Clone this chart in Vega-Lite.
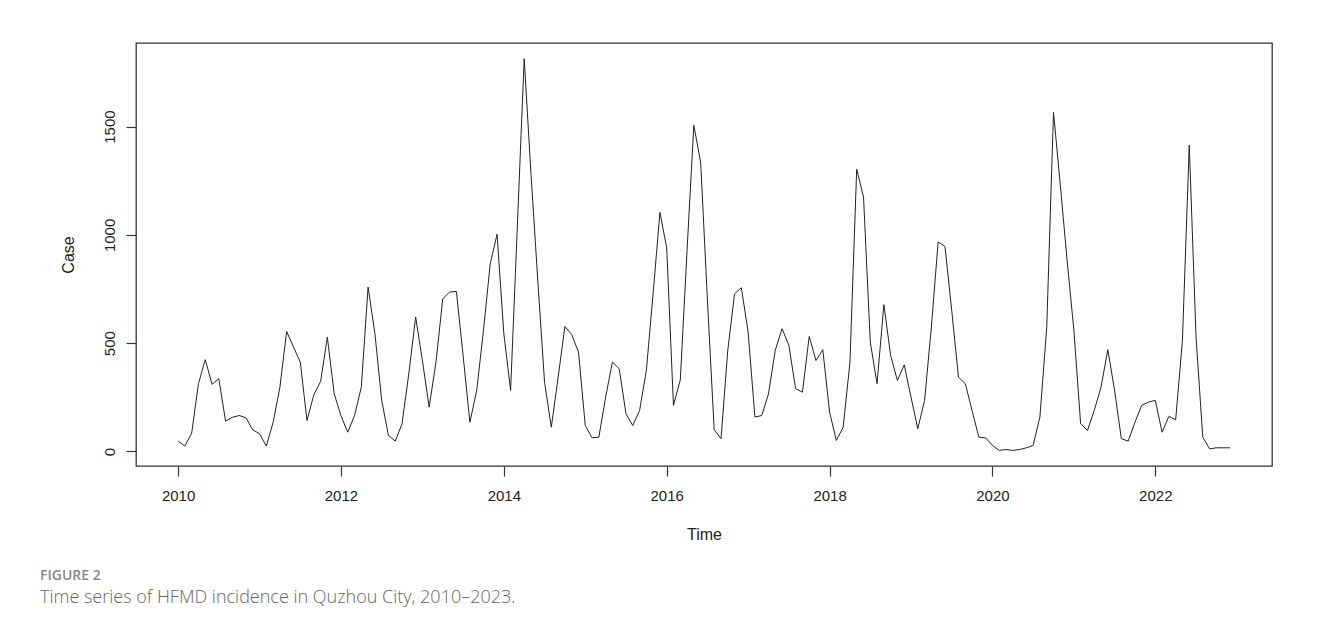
{
  "$schema": "https://vega.github.io/schema/vega-lite/v6.json",
  "width": 1136,
  "height": 423,
  "autosize": {"type": "none"},
  "padding": {"left": 136, "top": 43, "right": 56, "bottom": 165},
  "background": "white",
  "config": {
    "view": {"stroke": "#333333", "strokeWidth": 1.3},
    "font": "Liberation Sans"
  },
  "title": {
    "text": "FIGURE 2",
    "subtitle": "Time series of HFMD incidence in Quzhou City, 2010–2023.",
    "orient": "bottom",
    "anchor": "start",
    "frame": "group",
    "offset": 27,
    "dx": -96,
    "font": "Open Sans",
    "fontSize": 14,
    "fontWeight": 600,
    "color": "#888888",
    "subtitleFont": "Open Sans",
    "subtitleFontSize": 18,
    "subtitleFontWeight": 300,
    "subtitleColor": "#666666",
    "subtitlePadding": 6
  },
  "data": {
    "values": [
      {"t": 2010.000, "cases": 48}, {"t": 2010.083, "cases": 25}, {"t": 2010.167, "cases": 85}, {"t": 2010.250, "cases": 313},
      {"t": 2010.333, "cases": 424}, {"t": 2010.417, "cases": 310}, {"t": 2010.500, "cases": 336}, {"t": 2010.583, "cases": 140},
      {"t": 2010.667, "cases": 158}, {"t": 2010.750, "cases": 166}, {"t": 2010.833, "cases": 156}, {"t": 2010.917, "cases": 100},
      {"t": 2011.000, "cases": 82}, {"t": 2011.083, "cases": 25}, {"t": 2011.167, "cases": 135}, {"t": 2011.250, "cases": 297},
      {"t": 2011.333, "cases": 554}, {"t": 2011.417, "cases": 482}, {"t": 2011.500, "cases": 413}, {"t": 2011.583, "cases": 143},
      {"t": 2011.667, "cases": 262}, {"t": 2011.750, "cases": 323}, {"t": 2011.833, "cases": 528}, {"t": 2011.917, "cases": 266},
      {"t": 2012.000, "cases": 165}, {"t": 2012.083, "cases": 89}, {"t": 2012.167, "cases": 166}, {"t": 2012.250, "cases": 297},
      {"t": 2012.333, "cases": 759}, {"t": 2012.417, "cases": 544}, {"t": 2012.500, "cases": 236}, {"t": 2012.583, "cases": 74},
      {"t": 2012.667, "cases": 48}, {"t": 2012.750, "cases": 128}, {"t": 2012.833, "cases": 359}, {"t": 2012.917, "cases": 621},
      {"t": 2013.000, "cases": 420}, {"t": 2013.083, "cases": 205}, {"t": 2013.167, "cases": 413}, {"t": 2013.250, "cases": 705},
      {"t": 2013.333, "cases": 736}, {"t": 2013.417, "cases": 739}, {"t": 2013.500, "cases": 443}, {"t": 2013.583, "cases": 135},
      {"t": 2013.667, "cases": 282}, {"t": 2013.750, "cases": 560}, {"t": 2013.833, "cases": 867}, {"t": 2013.917, "cases": 1003},
      {"t": 2014.000, "cases": 544}, {"t": 2014.083, "cases": 282}, {"t": 2014.167, "cases": 1050}, {"t": 2014.250, "cases": 1814},
      {"t": 2014.333, "cases": 1285}, {"t": 2014.417, "cases": 790}, {"t": 2014.500, "cases": 320}, {"t": 2014.583, "cases": 112},
      {"t": 2014.667, "cases": 343}, {"t": 2014.750, "cases": 577}, {"t": 2014.833, "cases": 540}, {"t": 2014.917, "cases": 459},
      {"t": 2015.000, "cases": 120}, {"t": 2015.083, "cases": 63}, {"t": 2015.167, "cases": 66}, {"t": 2015.250, "cases": 251},
      {"t": 2015.333, "cases": 413}, {"t": 2015.417, "cases": 382}, {"t": 2015.500, "cases": 174}, {"t": 2015.583, "cases": 120},
      {"t": 2015.667, "cases": 189}, {"t": 2015.750, "cases": 374}, {"t": 2015.833, "cases": 729}, {"t": 2015.917, "cases": 1104},
      {"t": 2016.000, "cases": 940}, {"t": 2016.083, "cases": 213}, {"t": 2016.167, "cases": 330}, {"t": 2016.250, "cases": 928},
      {"t": 2016.333, "cases": 1506}, {"t": 2016.417, "cases": 1335}, {"t": 2016.500, "cases": 700}, {"t": 2016.583, "cases": 100},
      {"t": 2016.667, "cases": 59}, {"t": 2016.750, "cases": 467}, {"t": 2016.833, "cases": 728}, {"t": 2016.917, "cases": 756},
      {"t": 2017.000, "cases": 551}, {"t": 2017.083, "cases": 159}, {"t": 2017.167, "cases": 166}, {"t": 2017.250, "cases": 266},
      {"t": 2017.333, "cases": 467}, {"t": 2017.417, "cases": 567}, {"t": 2017.500, "cases": 490}, {"t": 2017.583, "cases": 290},
      {"t": 2017.667, "cases": 274}, {"t": 2017.750, "cases": 531}, {"t": 2017.833, "cases": 420}, {"t": 2017.917, "cases": 470},
      {"t": 2018.000, "cases": 182}, {"t": 2018.083, "cases": 51}, {"t": 2018.167, "cases": 112}, {"t": 2018.250, "cases": 410},
      {"t": 2018.333, "cases": 1303}, {"t": 2018.417, "cases": 1175}, {"t": 2018.500, "cases": 505}, {"t": 2018.583, "cases": 313},
      {"t": 2018.667, "cases": 678}, {"t": 2018.750, "cases": 443}, {"t": 2018.833, "cases": 328}, {"t": 2018.917, "cases": 400},
      {"t": 2019.000, "cases": 251}, {"t": 2019.083, "cases": 105}, {"t": 2019.167, "cases": 236}, {"t": 2019.250, "cases": 574},
      {"t": 2019.333, "cases": 967}, {"t": 2019.417, "cases": 947}, {"t": 2019.500, "cases": 651}, {"t": 2019.583, "cases": 343},
      {"t": 2019.667, "cases": 313}, {"t": 2019.750, "cases": 189}, {"t": 2019.833, "cases": 66}, {"t": 2019.917, "cases": 63},
      {"t": 2020.000, "cases": 28}, {"t": 2020.083, "cases": 5}, {"t": 2020.167, "cases": 9}, {"t": 2020.250, "cases": 5},
      {"t": 2020.333, "cases": 9}, {"t": 2020.417, "cases": 17}, {"t": 2020.500, "cases": 28}, {"t": 2020.583, "cases": 159},
      {"t": 2020.667, "cases": 574}, {"t": 2020.750, "cases": 1566}, {"t": 2020.833, "cases": 1233}, {"t": 2020.917, "cases": 882},
      {"t": 2021.000, "cases": 560}, {"t": 2021.083, "cases": 128}, {"t": 2021.167, "cases": 97}, {"t": 2021.250, "cases": 189},
      {"t": 2021.333, "cases": 297}, {"t": 2021.417, "cases": 470}, {"t": 2021.500, "cases": 282}, {"t": 2021.583, "cases": 59},
      {"t": 2021.667, "cases": 48}, {"t": 2021.750, "cases": 135}, {"t": 2021.833, "cases": 213}, {"t": 2021.917, "cases": 228},
      {"t": 2022.000, "cases": 236}, {"t": 2022.083, "cases": 89}, {"t": 2022.167, "cases": 162}, {"t": 2022.250, "cases": 146},
      {"t": 2022.333, "cases": 513}, {"t": 2022.417, "cases": 1414}, {"t": 2022.500, "cases": 530}, {"t": 2022.583, "cases": 66},
      {"t": 2022.667, "cases": 12}, {"t": 2022.750, "cases": 17}, {"t": 2022.833, "cases": 17}, {"t": 2022.917, "cases": 17}
    ]
  },
  "mark": {"type": "line", "color": "#222222", "strokeWidth": 1, "clip": true},
  "encoding": {
    "x": {
      "field": "t",
      "type": "quantitative",
      "scale": {"domain": [2009.483, 2023.433], "nice": false, "zero": false},
      "axis": {
        "values": [2010, 2012, 2014, 2016, 2018, 2020, 2022],
        "format": "d",
        "title": "Time",
        "grid": false,
        "domain": false,
        "ticks": true,
        "tickSize": 10,
        "tickColor": "#333333",
        "tickWidth": 1.2,
        "labelFont": "Liberation Sans",
        "labelFontSize": 15,
        "labelColor": "#222222",
        "labelPadding": 12,
        "titleFont": "Liberation Sans",
        "titleFontSize": 16,
        "titleFontWeight": "normal",
        "titleColor": "#222222",
        "titlePadding": 23
      }
    },
    "y": {
      "field": "cases",
      "type": "quantitative",
      "scale": {"domain": [-67, 1886], "nice": false, "zero": false},
      "axis": {
        "values": [0, 500, 1000, 1500],
        "format": "d",
        "title": "Case",
        "grid": false,
        "domain": false,
        "tickSize": 10,
        "tickColor": "#333333",
        "tickWidth": 1.2,
        "labelAngle": 270,
        "labelAlign": "center",
        "labelBaseline": "bottom",
        "labelFont": "Liberation Sans",
        "labelFontSize": 15,
        "labelColor": "#222222",
        "labelPadding": 9,
        "titleFont": "Liberation Sans",
        "titleFontSize": 16,
        "titleFontWeight": "normal",
        "titleColor": "#222222",
        "titlePadding": 26
      }
    }
  }
}
